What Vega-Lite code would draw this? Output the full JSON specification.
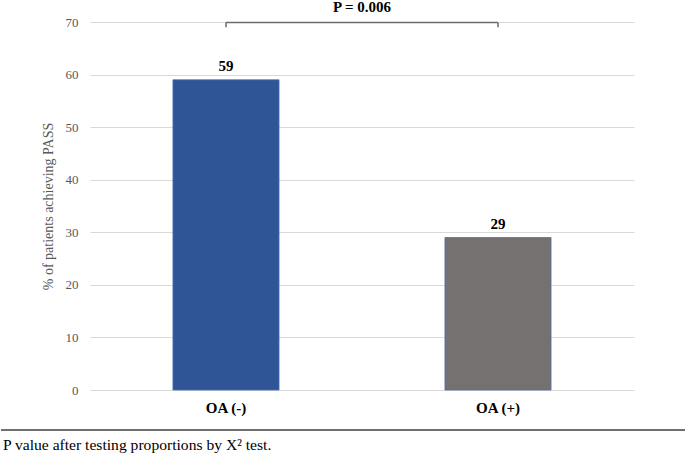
{
  "$schema": "https://vega.github.io/schema/vega-lite/v6.json",
  "padding": {"left": 0, "top": 0, "right": 0, "bottom": 0},
  "autosize": {"type": "pad"},
  "background": "white",
  "center": false,
  "spacing": 14,
  "config": {
    "view": {"stroke": null},
    "font": "Liberation Serif",
    "title": {"font": "Liberation Serif"},
    "text": {"font": "Liberation Serif"},
    "axis": {"labelFont": "Liberation Serif", "titleFont": "Liberation Serif"}
  },
  "vconcat": [
    {
      "width": 544,
      "height": 368,
      "title": {"text": "P = 0.006", "font": "Liberation Serif", "fontSize": 15, "fontWeight": "bold", "color": "#000000", "anchor": "middle", "offset": 1},
      "data": {"values": [
        {"group": "OA (-)", "pct": 59},
        {"group": "OA (+)", "pct": 29}
      ]},
      "layer": [
        {
          "mark": {"type": "bar", "stroke": "#4a6fae", "strokeWidth": 0.8},
          "encoding": {
            "x": {"field": "group", "type": "nominal", "sort": null,
              "scale": {"domain": ["OA (-)", "OA (+)"], "paddingInner": 0.61, "paddingOuter": 0.305},
              "axis": {"title": null, "labelAngle": 0, "labelFont": "Liberation Serif", "labelFontSize": 15, "labelFontWeight": "bold", "labelColor": "#000000", "domain": false, "ticks": false, "labelPadding": 10}},
            "y": {"field": "pct", "type": "quantitative",
              "scale": {"domain": [0, 70]},
              "axis": {"title": "% of patients achieving PASS", "titleFont": "Liberation Serif", "titleFontSize": 14, "titleFontWeight": "normal", "titleColor": "#595959", "titlePadding": 10,
                "values": [0, 10, 20, 30, 40, 50, 60, 70], "labelFont": "Liberation Serif", "labelFontSize": 13, "labelColor": "#595959", "labelPadding": 12,
                "domain": false, "ticks": false, "grid": true, "gridColor": "#d9d9d9", "gridWidth": 1}},
            "color": {"field": "group", "type": "nominal", "sort": null,
              "scale": {"domain": ["OA (-)", "OA (+)"], "range": ["#2f5597", "#767171"]}, "legend": null}
          }
        },
        {
          "mark": {"type": "text", "dy": -9, "font": "Liberation Serif", "fontSize": 15, "fontWeight": "bold", "color": "#000000", "baseline": "alphabetic"},
          "encoding": {
            "x": {"field": "group", "type": "nominal", "sort": null},
            "y": {"field": "pct", "type": "quantitative", "axis": null},
            "text": {"field": "pct", "type": "quantitative"}
          }
        },
        {
          "data": {"values": [{"a": "OA (-)", "b": "OA (+)", "lvl": 69.9}]},
          "mark": {"type": "rule", "color": "#6b6b6b", "strokeWidth": 1.5},
          "encoding": {
            "x": {"field": "a", "type": "nominal"},
            "x2": {"field": "b"},
            "y": {"field": "lvl", "type": "quantitative", "axis": null}
          }
        },
        {
          "data": {"values": [{"group": "OA (-)", "top": 69.9, "bot": 69.0}, {"group": "OA (+)", "top": 69.9, "bot": 69.0}]},
          "mark": {"type": "rule", "color": "#6b6b6b", "strokeWidth": 1.5},
          "encoding": {
            "x": {"field": "group", "type": "nominal", "sort": null},
            "y": {"field": "top", "type": "quantitative", "axis": null},
            "y2": {"field": "bot"}
          }
        },
        {
          "data": {"values": [{"v": 0}]},
          "mark": {"type": "point", "opacity": 0},
          "encoding": {
            "y": {"field": "v", "type": "quantitative",
              "axis": {"orient": "left", "title": null, "labels": false, "domain": false, "grid": false, "ticks": true, "tickSize": 89, "tickColor": "transparent", "values": [0]}}
          }
        }
      ],
      "resolve": {"axis": {"y": "independent"}}
    },
    {
      "width": 544,
      "height": 30,
      "data": {"values": [{"x0": 0, "x1": 1, "ly": 1, "note": "P value after testing proportions by X² test.", "ny": 0.33}]},
      "layer": [
        {
          "mark": {"type": "rule", "color": "#404040", "strokeWidth": 1.5, "clip": false},
          "encoding": {
            "x": {"field": "x0", "type": "quantitative", "scale": {"domain": [0, 1], "range": [-89, 596]}, "axis": null},
            "x2": {"field": "x1"},
            "y": {"field": "ly", "type": "quantitative", "scale": {"domain": [0, 1]}, "axis": null}
          }
        },
        {
          "mark": {"type": "text", "align": "left", "baseline": "alphabetic", "font": "Liberation Serif", "fontSize": 15.6, "color": "#000000", "dx": 2, "clip": false},
          "encoding": {
            "x": {"field": "x0", "type": "quantitative"},
            "y": {"field": "ny", "type": "quantitative"},
            "text": {"field": "note", "type": "nominal"}
          }
        }
      ]
    }
  ]
}
